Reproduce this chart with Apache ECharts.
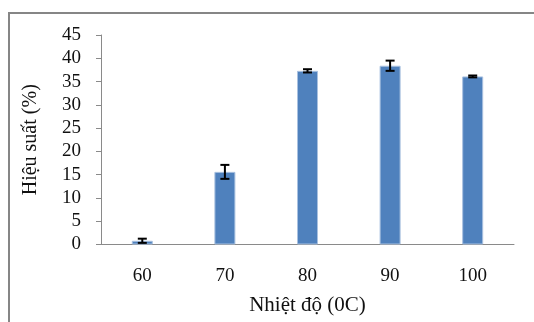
<!DOCTYPE html>
<html>
<head>
<meta charset="utf-8">
<script src="https://cdn.jsdelivr.net/npm/echarts@6/dist/echarts.min.js"></script>
<style>html,body{margin:0;padding:0;background:#fff;}#c{width:534px;height:322px;}</style>
</head>
<body>
<div id="c"></div>
<script>
const categories = ['60', '70', '80', '90', '100'];
const values = [0.8, 15.6, 37.3, 38.4, 36.1];
const errors = [0.45, 1.5, 0.35, 1.1, 0.2];
const yTicks = [0, 5, 10, 15, 20, 25, 30, 35, 40, 45];

const chart = echarts.init(document.getElementById('c'));
const font = '"Liberation Serif", "Times New Roman", serif';
chart.setOption({
  animation: false,
  graphic: [{
    type: 'rect', shape: {x: 9, y: 13, width: 700, height: 500},
    style: {fill: 'none', stroke: '#868686', lineWidth: 2}, silent: true
  }],
  grid: {left: 101, right: 20, top: 35, bottom: 77.5},
  xAxis: {
    type: 'category', data: categories,
    name: 'Nhiệt độ (0C)', nameLocation: 'middle', nameGap: 50,
    nameTextStyle: {fontFamily: font, fontSize: 21, color: '#111'},
    axisLine: {lineStyle: {color: '#8a8a8a', width: 1}},
    axisTick: {show: false},
    axisLabel: {fontFamily: font, fontSize: 19, color: '#111', margin: 22}
  },
  yAxis: {
    type: 'value', min: yTicks[0], max: yTicks[yTicks.length - 1], interval: 5,
    name: 'Hiệu suất (%)', nameLocation: 'middle', nameGap: 60, nameRotate: 90,
    nameTextStyle: {fontFamily: font, fontSize: 20, color: '#111', padding: [0, 0, 0, 0]},
    axisLine: {show: true, lineStyle: {color: '#8a8a8a', width: 1}},
    axisTick: {show: true, length: 5, lineStyle: {color: '#8a8a8a'}},
    splitLine: {show: false},
    axisLabel: {fontFamily: font, fontSize: 19, color: '#111', margin: 20}
  },
  series: [{
    type: 'bar', data: values, barWidth: 21,
    itemStyle: {color: '#4F81BD', borderColor: '#a9c1e0', borderWidth: 1}
  }, {
    type: 'custom', z: 10,
    data: values.map((v, i) => [i, v - errors[i], v + errors[i]]),
    renderItem: function (params, api) {
      const lo = api.coord([api.value(0), api.value(1)]);
      const hi = api.coord([api.value(0), api.value(2)]);
      const hw = 4.5;
      const st = {stroke: '#000', lineWidth: 2};
      return {type: 'group', children: [
        {type: 'line', shape: {x1: lo[0], y1: lo[1], x2: hi[0], y2: hi[1]}, style: st},
        {type: 'line', shape: {x1: lo[0] - hw, y1: lo[1], x2: lo[0] + hw, y2: lo[1]}, style: st},
        {type: 'line', shape: {x1: hi[0] - hw, y1: hi[1], x2: hi[0] + hw, y2: hi[1]}, style: st}
      ]};
    }
  }]
});
</script>
</body>
</html>
